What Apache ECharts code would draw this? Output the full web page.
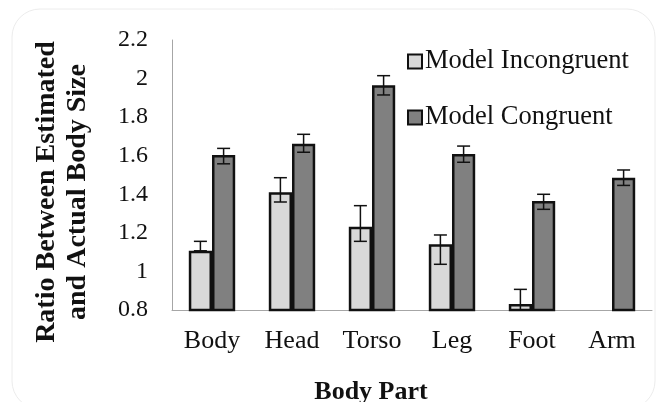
<!DOCTYPE html>
<html>
<head>
<meta charset="utf-8">
<title>Body part ratio</title>
<script src="https://cdn.jsdelivr.net/npm/echarts@6/dist/echarts.min.js"></script>
<style>
html, body { margin: 0; padding: 0; background: #fff; }
#chart { width: 656px; height: 402px; }
</style>
</head>
<body>
<div id="chart"></div>
<script>
// data
var parts = ['Body', 'Head', 'Torso', 'Leg', 'Foot', 'Arm'];
var seriesNames = ['Model Incongruent', 'Model Congruent'];
var incongruent = [1.107, 1.41, 1.232, 1.141, 0.831, 0.805];
var incLow = [1.107, 1.36, 1.156, 1.037, 0.755, null];
var incHigh = [1.156, 1.486, 1.341, 1.189, 0.907, null];
var congruent = [1.604, 1.662, 1.966, 1.609, 1.365, 1.486];
var conLow = [1.558, 1.618, 1.915, 1.566, 1.322, 1.446];
var conHigh = [1.638, 1.711, 2.015, 1.65, 1.4, 1.526];

var FONT = '"Liberation Serif", "Times New Roman", serif';
var BAR_SHARE = 0.29;
var Y_MIN = 0.8;

function errData(low, high) {
	var out = [];
	for (var i = 0; i < parts.length; i++) {
		if (low[i] == null) continue;
		out.push([i, low[i], high[i]]);
	}
	return out;
}

function errRender(side) {
	return function (params, api) {
		var cat = api.value(0);
		var lo = api.value(1);
		var hi = api.value(2);
		var barW = api.size([1, 0])[0] * BAR_SHARE;
		var x = api.coord([cat, hi])[0] + side * barW / 2;
		var yTop = api.coord([cat, hi])[1];
		var yBot = api.coord([cat, Math.max(lo, Y_MIN)])[1];
		var cap = 6.5;
		var st = { stroke: '#111', lineWidth: 1.5 };
		var kids = [
			{ type: 'line', shape: { x1: x, y1: yTop, x2: x, y2: yBot }, style: st },
			{ type: 'line', shape: { x1: x - cap, y1: yTop, x2: x + cap, y2: yTop }, style: st }
		];
		if (lo >= Y_MIN) {
			kids.push({ type: 'line', shape: { x1: x - cap, y1: yBot, x2: x + cap, y2: yBot }, style: st });
		}
		return { type: 'group', children: kids };
	};
}

var chart = echarts.init(document.getElementById('chart'));

var option = {
	animation: false,
	backgroundColor: '#fff',
	grid: { left: 172, right: 4, top: 40, bottom: 92 },
	legend: {
		orient: 'vertical',
		left: 407,
		top: 48,
		padding: 0,
		itemWidth: 14,
		itemHeight: 14,
		itemGap: 29,
		icon: 'rect',
		data: seriesNames,
		textStyle: { fontFamily: FONT, fontSize: 26.5, color: '#111', padding: [0, 0, 0, -2] }
	},
	xAxis: {
		type: 'category',
		data: parts,
		axisLine: { lineStyle: { color: '#a6a6a6', width: 1 } },
		axisTick: { show: false },
		axisLabel: { fontFamily: FONT, fontSize: 26, color: '#111', margin: 18 }
	},
	yAxis: {
		type: 'value',
		min: Y_MIN,
		max: 2.2,
		interval: 0.2,
		axisLine: { show: true, lineStyle: { color: '#a6a6a6', width: 1 } },
		axisTick: { show: false },
		splitLine: { show: false },
		axisLabel: {
			fontFamily: FONT, fontSize: 24, color: '#111', margin: 24,
			formatter: function (v) { return String(+v.toFixed(1)); }
		}
	},
	title: {
		text: 'Body Part',
		left: 366,
		top: 374,
		textAlign: 'center',
		textStyle: { fontFamily: FONT, fontSize: 26, fontWeight: 'bold', color: '#111' }
	},
	graphic: [
		{
			type: 'rect',
			shape: { x: 12, y: 9, width: 643, height: 400, r: 28 },
			style: { fill: 'none', stroke: '#ececec', lineWidth: 1 },
			silent: true,
			z: -10
		},
		{
			type: 'text',
			x: 62,
			y: 192,
			rotation: Math.PI / 2,
			style: {
				text: 'Ratio Between Estimated\nand Actual Body Size',
				fontFamily: FONT,
				fontSize: 28,
				fontWeight: 'bold',
				lineHeight: 31,
				fill: '#111',
				align: 'center',
				verticalAlign: 'middle'
			}
		}
	],
	series: [
		{
			name: seriesNames[0],
			type: 'bar',
			data: incongruent,
			barWidth: (BAR_SHARE * 100) + '%',
			barGap: '0%',
			itemStyle: { color: '#d9d9d9', borderColor: '#111', borderWidth: 2.5 }
		},
		{
			name: seriesNames[1],
			type: 'bar',
			data: congruent,
			barWidth: (BAR_SHARE * 100) + '%',
			barGap: '0%',
			itemStyle: { color: '#808080', borderColor: '#111', borderWidth: 2.5 }
		},
		{
			type: 'custom',
			renderItem: errRender(-1),
			data: errData(incLow, incHigh),
			z: 10,
			silent: true
		},
		{
			type: 'custom',
			renderItem: errRender(1),
			data: errData(conLow, conHigh),
			z: 10,
			silent: true
		}
	]
};

chart.setOption(option);
</script>
</body>
</html>
